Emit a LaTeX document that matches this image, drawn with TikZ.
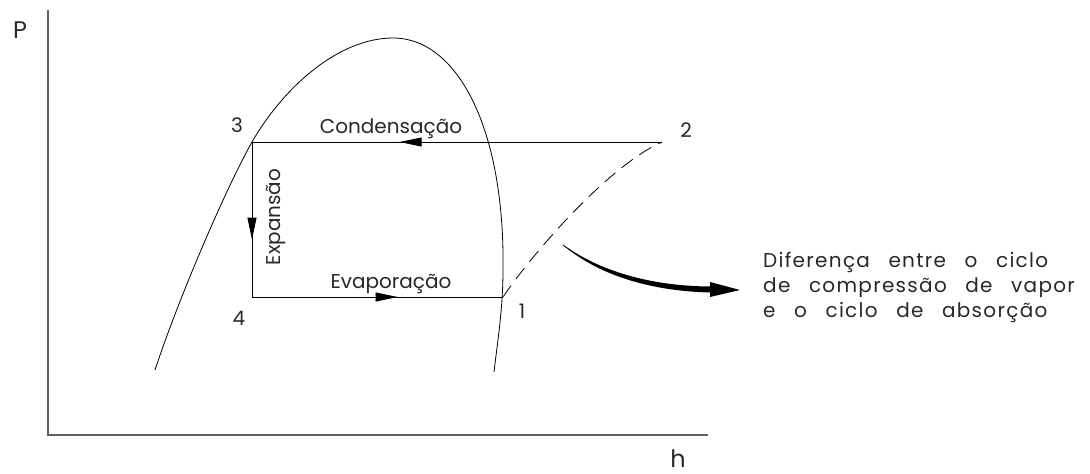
\documentclass[tikz,border=0pt]{standalone}
\usepackage{fontspec}
\setmainfont{Poppins}
\newfontfamily\notefont{Poppins}[LetterSpace=6.5, WordSpace=2.8]
\usetikzlibrary{arrows.meta, decorations.markings}
\definecolor{axisgray}{RGB}{95, 95, 95}
\definecolor{inkgray}{RGB}{40, 40, 40}

\begin{document}
\begin{tikzpicture}[
    x=1pt, y=-1pt,
    lbl/.style={font=\fontsize{20}{22}\selectfont, text=inkgray, inner sep=0pt},
    notelbl/.style={font=\notefont\fontsize{20}{22}\selectfont, text=inkgray, inner sep=0pt},
    axislbl/.style={font=\fontsize{24}{26}\selectfont, text=inkgray, inner sep=0pt},
    cycleline/.style={line width=0.8pt},
    axisline/.style={draw=axisgray, line width=1.5pt},
    midarrow/.style={postaction={decorate, decoration={markings,
        mark=at position #1 with {\arrow{Triangle[length=22pt, width=9pt]}}}}}
]
    \useasboundingbox (0,0) rectangle (1090,474);

    % axes
    \coordinate (ytop) at (48,10);
    \coordinate (origin) at (48,435);
    \coordinate (xend) at (708,435);
    \draw[axisline] (ytop) -- (origin) -- (xend);
    \node[axislbl, anchor=base] (plbl) at (20,38) {P};
    \node[axislbl, anchor=base] (hlbl) at (678,467) {h};

    % saturation dome
    \coordinate (domeleft) at (155,370);
    \coordinate (dometop) at (393,38);
    \coordinate (domeright) at (494,372);
    \draw[cycleline] (domeleft) .. controls (178,300) and (225,190) .. (252,142)
        .. controls (285,85) and (340,38) .. (dometop)
        .. controls (458,38) and (505,130) .. (503,270)
        .. controls (503,310) and (497,345) .. (domeright);

    % cycle states
    \coordinate (p1) at (503,297);
    \coordinate (p2) at (662,142);
    \coordinate (p3) at (252,142);
    \coordinate (p4) at (252,297);
    \node[lbl, anchor=base] (n1) at (522,318) {1};
    \node[lbl, anchor=base] (n2) at (686,137) {2};
    \node[lbl, anchor=base] (n3) at (237,132) {3};
    \node[lbl, anchor=base] (n4) at (239,325) {4};

    % cycle processes
    \draw[cycleline, midarrow=0.64] (p2) -- (p3);
    \draw[cycleline, midarrow=0.63] (p3) -- (p4);
    \draw[cycleline, midarrow=0.58] (p4) -- (p1);
    \draw[cycleline, dash pattern=on 14pt off 8pt]
        (p1) .. controls (535,250) and (610,165) .. (p2);
    \node[lbl, anchor=base] (cond) at (391,133) {Condensação};
    \node[lbl, anchor=base] (evap) at (391,288) {Evaporação};
    \node[lbl, anchor=base, rotate=90] (expa) at (280,217) {Expansão};

    % pointer to the note
    \coordinate (bendstart) at (563,245);
    \coordinate (bendtip) at (740,290);
    \draw[line width=0.8pt] (bendstart) .. controls (600,272) and (650,288) .. (710,289.5);
    \fill (bendstart) .. controls (600,271) and (650,286) .. (710,286.5)
        -- (710,292.5) .. controls (650,291) and (598,275) .. (bendstart) -- cycle;
    \fill (710,282) -- (bendtip) -- (710,297) -- cycle;

    \node[notelbl, anchor=base west] (diff1) at (763,267) {Diferença entre o ciclo};
    \node[notelbl, anchor=base west] (diff2) at (763,292) {de compressão de vapor};
    \node[notelbl, anchor=base west] (diff3) at (763,317) {e o ciclo de absorção};
\end{tikzpicture}
\end{document}
